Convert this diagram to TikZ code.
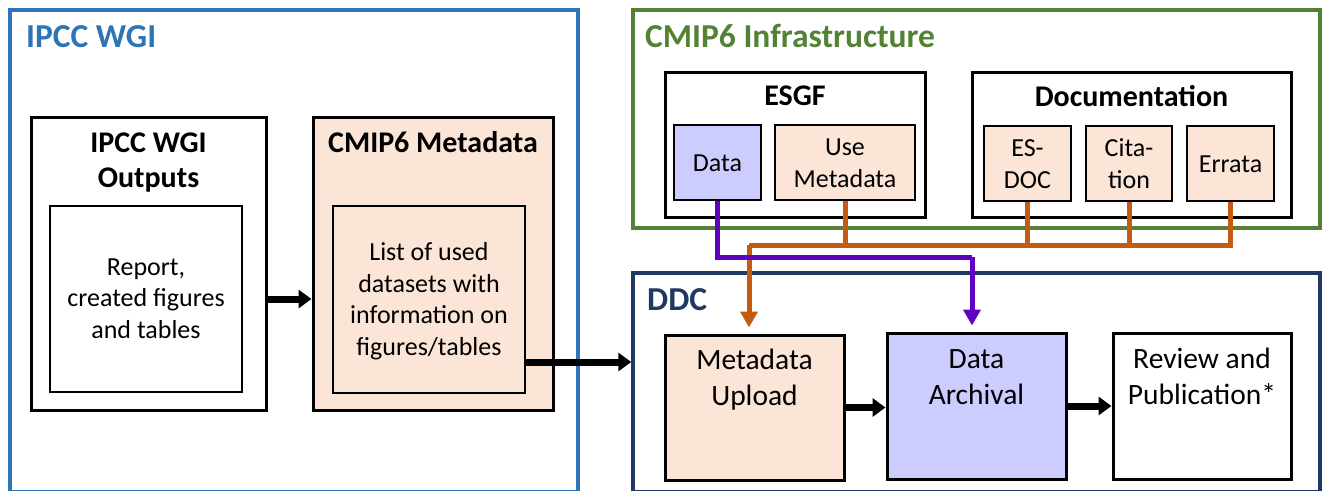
\documentclass[tikz,border=0pt]{standalone}
\usepackage{fontspec}
\setmainfont{Carlito}
\usepackage{tikz}
\usetikzlibrary{arrows.meta}
\definecolor{wgiblue}{HTML}{2E75B6}
\definecolor{cmipgreen}{HTML}{548235}
\definecolor{ddcnavy}{HTML}{203864}
\definecolor{peach}{HTML}{FBE5D6}
\definecolor{lavender}{HTML}{CCCCFF}
\definecolor{linkorange}{HTML}{C55A11}
\definecolor{linkpurple}{HTML}{6000C0}
\tikzstyle{frame}=[draw,line width=3.5pt,inner sep=0pt]
\tikzstyle{box}=[draw=black,line width=3pt,inner sep=0pt]
\tikzstyle{subbox}=[draw=black,line width=2pt,inner sep=0pt]

\begin{document}
\begin{tikzpicture}[x=1pt,y=-1pt]
    \tikzstyle{frametitle}=[font=\bfseries\fontsize{33.5}{40}\selectfont,anchor=base west,inner sep=0pt]
    \tikzstyle{boxtitle}=[font=\bfseries\fontsize{30}{35}\selectfont,align=center,anchor=base,inner sep=0pt]
    \tikzstyle{txt}=[font=\fontsize{26}{31.5}\selectfont,align=center,anchor=base,inner sep=0pt]
    \tikzstyle{bigtxt}=[font=\fontsize{29.5}{36}\selectfont,align=center,anchor=base,inner sep=0pt]
    \tikzstyle{flow}=[line width=7pt,-{Triangle[length=13pt,width=18pt]}]
    \tikzstyle{orangeline}=[draw=linkorange,line width=5pt]
    \tikzstyle{purpleline}=[draw=linkpurple,line width=5pt]
    \tikzstyle{tip}=[-{Triangle[length=16pt,width=17pt]},shorten >=6pt]

\useasboundingbox (0,0) rectangle (1324,490);

% frames (the lower ones run off the page)
\node[frame,draw=wgiblue,minimum width=568,minimum height=482] (wgi) at (294,251) {};
\node[frame,draw=cmipgreen,minimum width=687,minimum height=218] (infra) at (976.5,119) {};
\node[frame,draw=ddcnavy,minimum width=687,minimum height=219] (ddc) at (976.5,382.5) {};
\node[frametitle,text=wgiblue] (wgititle) at (26,47) {IPCC WGI};
\node[frametitle,text=cmipgreen] (infratitle) at (645,47) {CMIP6 Infrastructure};
\node[frametitle,text=ddcnavy] (ddctitle) at (647,310) {DDC};

% IPCC WGI side (multi-line texts sit on their last line)
\node[box,minimum width=235,minimum height=293] (outputs) at (148.5,263.5) {};
\node[subbox,minimum width=192,minimum height=186] (report) at (146,299) {};
\node[box,fill=peach,minimum width=240,minimum height=293] (cmipmeta) at (433,263.5) {};
\node[subbox,minimum width=192,minimum height=187] (usedlist) at (429,299.5) {};
\node[boxtitle] (outputstitle) at (148.5,187) {IPCC WGI\\Outputs};
\node[boxtitle] (cmipmetatitle) at (433,152) {CMIP6 Metadata};
\node[txt] (reporttext) at (146,338) {Report,\\created figures\\and tables};
\node[txt] (usedlisttext) at (429,355) {List of used\\datasets with\\information on\\figures/tables};

% CMIP6 infrastructure
\node[box,minimum width=260,minimum height=145] (esgf) at (795,144.5) {};
\node[box,minimum width=319,minimum height=145] (docu) at (1131.5,144.5) {};
\node[boxtitle] (esgftitle) at (795,105) {ESGF};
\node[boxtitle] (docutitle) at (1131.5,106) {Documentation};
\node[subbox,fill=lavender,minimum width=87,minimum height=75] (data) at (717.5,162.5) {};
\node[subbox,fill=peach,minimum width=140,minimum height=75] (usemeta) at (845,162.5) {};
\node[subbox,fill=peach,minimum width=87,minimum height=75] (esdoc) at (1027.5,163.5) {};
\node[subbox,fill=peach,minimum width=86,minimum height=75] (cita) at (1129,163.5) {};
\node[subbox,fill=peach,minimum width=87,minimum height=75] (errata) at (1230.5,163.5) {};
\node[txt] (datatext) at (717.5,171) {Data};
\node[txt] (usemetatext) at (845,187) {Use\\Metadata};
\node[txt] (esdoctext) at (1027.5,188) {ES-\\DOC};
\node[txt] (citatext) at (1129,188) {Cita-\\tion};
\node[txt] (erratatext) at (1230.5,172) {Errata};

% DDC
\node[box,fill=peach,minimum width=179,minimum height=145] (upload) at (754.5,407.5) {};
\node[box,fill=lavender,minimum width=179,minimum height=146] (archival) at (976.5,406) {};
\node[box,minimum width=178,minimum height=146] (review) at (1202,406) {};
\node[bigtxt] (uploadtext) at (754.5,405) {Metadata\\Upload};
\node[bigtxt] (archivaltext) at (976.5,404) {Data\\Archival};
\node[bigtxt] (reviewtext) at (1202,404) {Review and\\Publication*};

% links
\coordinate (orbus) at (749,245);
\coordinate (pubus) at (972,257);
\draw[orangeline] (errata.south) |- (orbus);
\foreach \n in {usemeta,esdoc,cita}{
\draw[orangeline] (\n.south) -- (\n.south |- orbus);
}
\draw[orangeline,tip] (orbus) -- (orbus |- upload.north);
\draw[purpleline] (data.south) |- (pubus);
\draw[purpleline,tip] (pubus) -- (pubus |- archival.north);

\draw[flow] (report.center -| outputs.east) -- (report.center -| cmipmeta.west);
\draw[flow] ([yshift=-62.5pt]usedlist.east) -- ([yshift=-62.5pt]usedlist.east -| ddc.west);
\draw[flow] (upload.east) -- (upload.east -| archival.west);
\draw[flow] (archival.east) -- (archival.east -| review.west);
\end{tikzpicture}
\end{document}
